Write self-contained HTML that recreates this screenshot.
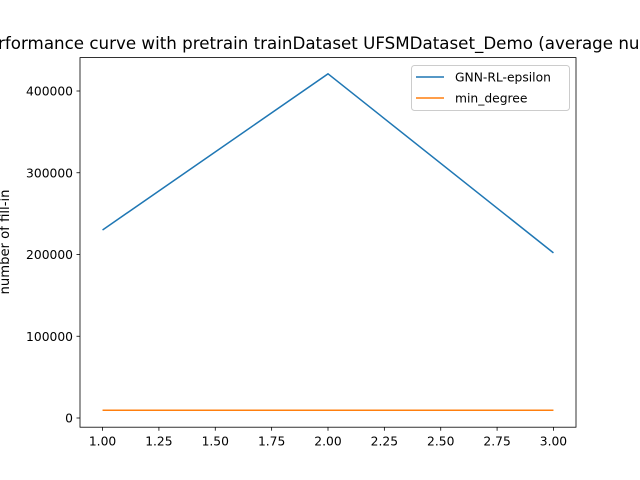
<!DOCTYPE html>
<html><head><meta charset="utf-8"><style>
body{margin:0;background:#fff;}
svg{display:block;font-family:"DejaVu Sans","Liberation Sans",sans-serif;}
</style></head><body>
<svg id="chart" width="640" height="480" viewBox="0 0 640 480">
<rect width="640" height="480" fill="#fff"/>
<text x="368" y="49" font-size="16.7" text-anchor="middle">Performance curve with pretrain trainDataset UFSMDataset_Demo (average number of fill-in)</text>
<text transform="translate(9,242) rotate(-90)" font-size="13.2" text-anchor="middle">number of fill-in</text>
<g id="ticks"></g>
<g id="series"></g>
<rect x="80" y="57.6" width="496" height="369.6" fill="none" stroke="#000" stroke-width="0.8"/>
<g>
<rect x="411.5" y="65.5" width="158" height="45" rx="3" fill="#fff" fill-opacity="0.8" stroke="#ccc"/>
<line x1="416" y1="77" x2="444" y2="77" stroke="#1f77b4" stroke-width="1.5"/>
<text x="455" y="81.5" font-size="12.3">GNN-RL-epsilon</text>
<line x1="416" y1="98" x2="444" y2="98" stroke="#ff7f0e" stroke-width="1.5"/>
<text x="455" y="102.5" font-size="12.3">min_degree</text>
</g>
</svg>
<script>
const xValues = [1, 2, 3];
const gnnValues = [230000, 421000, 202000];
const minDegreeValues = [9500, 9500, 9500];
const xTicks = [1.0, 1.25, 1.5, 1.75, 2.0, 2.25, 2.5, 2.75, 3.0];
const xTickLabels = ["1.00","1.25","1.50","1.75","2.00","2.25","2.50","2.75","3.00"];
const yTicks = [0, 100000, 200000, 300000, 400000];
const yTickLabels = ["0","100000","200000","300000","400000"];

const NS = "http://www.w3.org/2000/svg";
const X = v => 80 + (v - 0.9) / 2.2 * 496;
const Y = v => 418 - v * (327 / 400000);
const tg = document.getElementById('ticks');
const sg = document.getElementById('series');
function mk(tag, attrs, parent){const e=document.createElementNS(NS,tag);for(const k in attrs)e.setAttribute(k,attrs[k]);parent.appendChild(e);return e;}
xTicks.forEach((t,i)=>{
  const l=mk('line',{x1:X(t),x2:X(t),y1:427.2,y2:430.7,stroke:'#000','stroke-width':0.8},tg);
  
  
  const tx=mk('text',{x:X(t),y:445.5,'font-size':12.3,'text-anchor':'middle'},tg);
  tx.textContent=xTickLabels[i];
  
  
});
yTicks.forEach((t,i)=>{
  const l=mk('line',{x1:76.5,x2:80,y1:Y(t),y2:Y(t),stroke:'#000','stroke-width':0.8},tg);
  
  
  const tx=mk('text',{x:73,y:Y(t)+4.5,'font-size':12.3,'text-anchor':'end'},tg);
  tx.textContent=yTickLabels[i];
  
  
});
function line(vals,color,name){
  const p=mk('polyline',{points:xValues.map((x,i)=>X(x)+','+Y(vals[i])).join(' '),fill:'none',stroke:color,'stroke-width':1.5},sg);
  
  
}
line(gnnValues,'#1f77b4','gnn-rl-epsilon-line');
line(minDegreeValues,'#ff7f0e','min-degree-line');
</script>
</body></html>
